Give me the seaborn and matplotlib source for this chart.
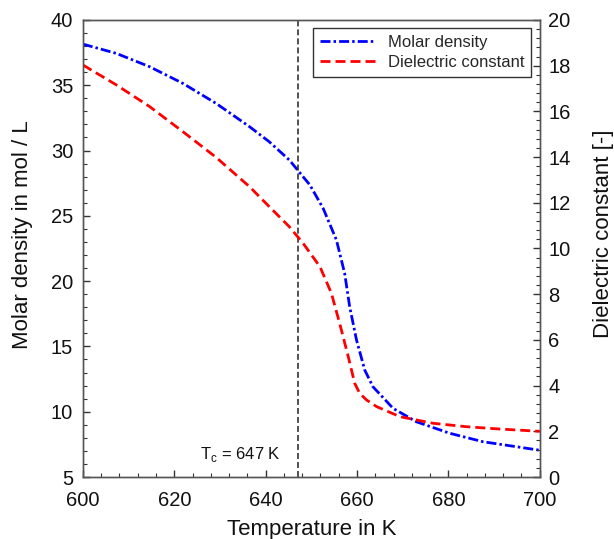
import matplotlib
matplotlib.use("Agg")
import matplotlib.pyplot as plt
import seaborn as sns
import pandas as pd
from matplotlib.ticker import MultipleLocator
from matplotlib.lines import Line2D

# Data
temp_density = [600, 607.3, 614.6, 621.9, 629.2, 636.5, 640.8, 645.2, 646.4, 649.7,
                 652.6, 655.5, 657.3, 658.4, 659.9, 661.7, 663.5, 667.9, 673.0, 680.3,
                 687.6, 694.9, 700]
molar_density = [38.15, 37.44, 36.42, 35.14, 33.6, 31.82, 30.67, 29.27, 28.76, 27.36,
                 25.57, 23.15, 20.6, 18.04, 15.49, 13.19, 11.91, 10.26, 9.23, 8.35,
                 7.70, 7.32, 7.05]
temp_dielectric = [600, 607.3, 614.6, 621.9, 629.2, 636.5, 640.8, 645.2, 648.2, 651.9,
                   654.4, 656.2, 658.1, 659.5, 660.6, 662.1, 664.3, 669.4, 676.7, 684.0,
                   691.2, 700]
dielectric = [18.03, 17.16, 16.21, 15.11, 13.98, 12.70, 11.83, 10.95, 10.23, 9.20,
              8.04, 6.73, 5.26, 4.10, 3.66, 3.37, 3.08, 2.64, 2.35, 2.20,
              2.10, 2.0]
tc_value = 647

df_d = pd.DataFrame({"T": temp_density, "rho": molar_density})
df_e = pd.DataFrame({"T": temp_dielectric, "eps": dielectric})

sns.set_style("ticks")
plt.rcParams['font.family'] = ['Liberation Sans', 'DejaVu Sans']

fig = plt.figure(figsize=(6.14, 5.39), dpi=100)
ax = fig.add_axes([0.135, 0.115, 0.744, 0.848])
ax2 = ax.twinx()

blue_ls = (0, (3.6, 1.1, 0.9, 1.1))
red_ls = (0, (3.6, 1.8))
lw = 2.0

sns.lineplot(data=df_d, x="T", y="rho", ax=ax, color="#0000ff", lw=lw,
             linestyle=blue_ls)
sns.lineplot(data=df_e, x="T", y="eps", ax=ax2, color="#ff0000", lw=lw,
             linestyle=red_ls)
ax.axvline(tc_value, color="#222222", lw=1.1, linestyle=(0, (3.9, 2.0)))
ax.text(634.4, 6.4, r"T$_\mathregular{c}$ = 647 K", fontsize=12, ha="center",
        va="baseline", color="#111111")

ax.set_xlim(600, 700)
ax.set_ylim(5, 40)
ax2.set_ylim(0, 20)
ax.set_xticks([600, 620, 640, 660, 680, 700])
ax.set_yticks([5, 10, 15, 20, 25, 30, 35, 40])
ax2.set_yticks(list(range(0, 21, 2)))
ax.xaxis.set_minor_locator(MultipleLocator(4))
ax.yaxis.set_minor_locator(MultipleLocator(1))
ax2.yaxis.set_minor_locator(MultipleLocator(0.4))

for a in (ax, ax2):
    a.tick_params(which="both", direction="in", colors="#333333", labelcolor="#111111",
                  labelsize=14.5)
    a.tick_params(which="major", length=5, width=1)
    a.tick_params(which="minor", length=3, width=0.8)
    for s in a.spines.values():
        s.set_visible(True)
        s.set_color("#555555")
        s.set_linewidth(1.0)
ax.tick_params(axis="x", pad=10)
ax.tick_params(axis="y", pad=7)
ax2.tick_params(axis="y", pad=6)

ax.set_xlabel("Temperature in K", fontsize=16, color="#111111")
ax.set_ylabel("Molar density in mol / L", fontsize=16, color="#111111")
ax2.set_ylabel("Dielectric constant [-]", fontsize=16, color="#111111")
ax.xaxis.set_label_coords(0.5, -0.091)
ax.yaxis.set_label_coords(-0.11, 0.53)
ax2.yaxis.set_label_coords(1.116, 0.532)

handles = [Line2D([], [], color="#0000ff", lw=lw, linestyle=blue_ls),
           Line2D([], [], color="#ff0000", lw=lw, linestyle=red_ls)]
leg = ax.legend(handles, ["Molar density", "Dielectric constant"], loc="upper right",
                fontsize=12, frameon=True, fancybox=False, framealpha=1,
                edgecolor="#333333", handlelength=3.3, borderaxespad=0.5,
                borderpad=0.4, labelspacing=0.3)
leg.get_frame().set_linewidth(1.0)

fig.savefig("out.png", dpi=100)
